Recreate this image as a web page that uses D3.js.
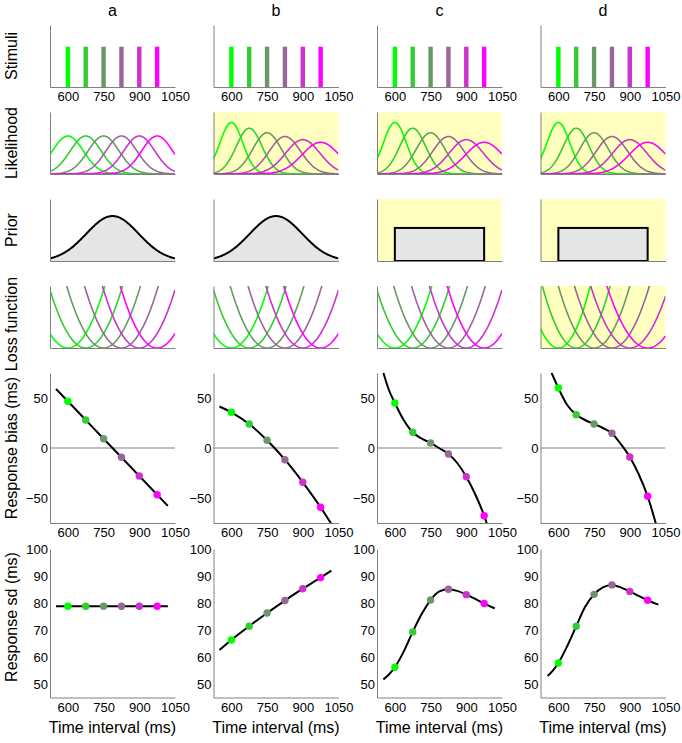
<!DOCTYPE html>
<html><head><meta charset="utf-8">
<script src="https://cdn.jsdelivr.net/npm/d3@7"></script>
<style>
body{margin:0;background:#fff}
text{font-family:"Liberation Sans",Arial,Helvetica,sans-serif;fill:#000}
</style>
</head><body>
<svg id="chart" width="682" height="743"></svg>
<script>
// ---------------- data ----------------
const columnLabels = ["a", "b", "c", "d"];
const rowLabels = ["Stimuli", "Likelihood", "Prior", "Loss function", "Response bias (ms)", "Response sd (ms)"];
const xAxisTitle = "Time interval (ms)";
const stimuli = [600, 675, 750, 825, 900, 975];
const stimulusColors = ["#00ff00", "#33cc33", "#669966", "#996699", "#cc33cc", "#ff00ff"];
const xTicks = [600, 750, 900, 1050];
const biasTicks = [-50, 0, 50];
const sdTicks = [50, 60, 70, 80, 90, 100];

// model components per column
const likelihoodNoise = ["constant", "scalar", "scalar", "scalar"];
const constantNoiseSd = 65;
const weberFraction = 0.08;
const priorShape = ["gaussian", "gaussian", "uniform", "uniform"];
const priorMean = 787.5;
const priorSd = 110;
const uniformPriorRange = [600, 975];
const lossShape = ["squared", "squared", "squared", "scaled"];
const lossMax = [24000, 24000, 24000, 30];
const likelihoodHighlight = [false, true, true, true];
const priorHighlight = [false, false, true, true];
const lossHighlight = [false, false, false, true];

// response bias curves [time, bias]
const biasCurveA = [[550, 59.1], [600, 46.7], [675, 28], [750, 9.3], [825, -9.3], [900, -28], [975, -46.7], [1020, -57.9]];
const biasCurveB = [[550, 41.5], [600, 35.7], [675, 24], [750, 7.7], [825, -11.7], [900, -34.3], [975, -59.3], [1020, -76]];
const biasCurveC = [[552, 75], [575, 58], [600, 45], [637, 28], [675, 15.7], [712, 9.5], [750, 5], [785, 0], [825, -6], [862, -15], [900, -28.7], [937, -46], [975, -67.7], [995, -82]];
const biasCurveD = [[570, 76], [600, 60], [637, 43], [675, 33.3], [712, 28], [750, 24], [787, 20], [825, 14.7], [862, 4], [900, -9], [937, -26], [975, -48.3], [1010, -76]];
const biasDotsA = [46.7, 28, 9.3, -9.3, -28, -46.7];
const biasDotsB = [35.7, 24, 7.7, -11.7, -34.3, -59.3];
const biasDotsC = [45, 15.7, 5, -6, -28.7, -67.7];
const biasDotsD = [60, 33.3, 24, 14.7, -9, -48.3];

// response sd curves [time, sd]
const sdCurveA = [[550, 78.8], [1020, 78.8]];
const sdCurveB = [[550, 62.6], [600, 66.3], [675, 71.4], [750, 76.3], [825, 80.9], [900, 85.3], [975, 89.4], [1020, 92]];
const sdCurveC = [[552, 51.7], [575, 53.5], [600, 56.2], [637, 62], [675, 69.3], [712, 75.8], [750, 81.1], [787, 84.3], [825, 85.1], [862, 84.5], [900, 83.1], [937, 81.5], [975, 79.8], [1020, 78]];
const sdCurveD = [[555, 53], [575, 54.8], [600, 57.8], [637, 64], [675, 71.4], [712, 78.5], [750, 83.2], [787, 85.8], [825, 86.7], [862, 85.8], [900, 84.3], [937, 82.6], [975, 81], [1020, 79.4]];
const sdDotsA = [78.8, 78.8, 78.8, 78.8, 78.8, 78.8];
const sdDotsB = [66.3, 71.4, 76.3, 80.9, 85.3, 89.4];
const sdDotsC = [56.2, 69.3, 81.1, 85.1, 83.1, 79.8];
const sdDotsD = [57.8, 71.4, 83.2, 86.7, 84.3, 81];

const biasCurves = [biasCurveA, biasCurveB, biasCurveC, biasCurveD];
const biasDots = [biasDotsA, biasDotsB, biasDotsC, biasDotsD];
const sdCurves = [sdCurveA, sdCurveB, sdCurveC, sdCurveD];
const sdDots = [sdDotsA, sdDotsB, sdDotsC, sdDotsD];

// ---------------- layout ----------------
const X0 = 525, X1 = 1050;
const colLeft = [50, 213.5, 377, 540.5];
const panelW = 125;
const smallTops = [25, 112, 199, 286];
const smallH = 62;
const biasTop = 373, biasBottom = 523;
const sdTop = 549, sdBottom = 697.5;
const yellow = "#ffffc0";
const axisColor = "#808080";
const rowLabelCenters = [56, 143, 230, 324, 448, 617];
const numFmt = d3.format("d");

const svg = d3.select("#chart");
const defs = svg.append("defs");
const pdf = (t, m, s) => Math.exp(-0.5 * ((t - m) / s) ** 2) / (s * Math.sqrt(2 * Math.PI));
const grid = d3.range(X0, X1 + 0.01, 2.5);

// row labels
rowLabels.forEach((lab, i) => {
  svg.append("text")
    .attr("transform", `translate(17,${rowLabelCenters[i]}) rotate(-90)`)
    .attr("text-anchor", "middle")
    .style("font-size", "16px")
    .text(lab);
});

function makePanel(ci, ri, top, bottom, x, highlight) {
  const id = `clip-${ci}-${ri}`;
  defs.append("clipPath").attr("id", id).append("rect")
    .attr("x", x.range()[0]).attr("y", top)
    .attr("width", x.range()[1] - x.range()[0]).attr("height", bottom - top);
  const g = svg.append("g");
  if (highlight) {
    g.append("rect").attr("x", x.range()[0]).attr("y", top)
      .attr("width", x.range()[1] - x.range()[0]).attr("height", bottom - top)
      .attr("fill", yellow);
  }
  const inner = g.append("g").attr("clip-path", `url(#${id})`);
  return {g, inner};
}

function styleAxis(sel) {
  sel.select(".domain").attr("stroke", axisColor).attr("stroke-width", 1);
  sel.selectAll(".tick line").remove();
  sel.selectAll("text").style("font-size", "13px").style("font-family", '"Liberation Sans",Arial,sans-serif').attr("fill", "#000");
}

function bottomAxis(g, x, y0, withLabels) {
  const ax = d3.axisBottom(x).tickSizeInner(0).tickSizeOuter(0).tickPadding(5).tickFormat(numFmt);
  if (withLabels) ax.tickValues(xTicks); else ax.tickValues([]);
  const a = g.append("g").attr("transform", `translate(0,${y0})`).call(ax);
  styleAxis(a);
}
function leftAxis(g, x, y, ticks) {
  const ax = d3.axisLeft(y).tickSizeInner(0).tickSizeOuter(0).tickPadding(2);
  ax.tickValues(ticks || []);
  const a = g.append("g").attr("transform", `translate(${x.range()[0]},0)`).call(ax);
  styleAxis(a);
}

columnLabels.forEach((lab, ci) => {
  const x = d3.scaleLinear().domain([X0, X1]).range([colLeft[ci], colLeft[ci] + panelW]);

  svg.append("text").attr("x", colLeft[ci] + panelW / 2).attr("y", 16)
    .attr("text-anchor", "middle").style("font-size", "16px").text(lab);

  // --- Stimuli ---
  {
    const top = smallTops[0], bottom = top + smallH;
    const y = d3.scaleLinear().domain([0, 1]).range([bottom, top]);
    const p = makePanel(ci, 0, top, bottom, x, false);
    p.inner.selectAll("rect.stim").data(stimuli).join("rect")
      .attr("x", d => x(d) - 2.2).attr("width", 4.4)
      .attr("y", y(0.65)).attr("height", y(0) - y(0.65))
      .attr("fill", (d, i) => stimulusColors[i]);
    bottomAxis(p.g, x, bottom, true);
    leftAxis(p.g, x, y, []);
  }

  // --- Likelihood ---
  {
    const top = smallTops[1], bottom = top + smallH;
    const y = d3.scaleLinear().domain([0, 0.01]).range([bottom, top]);
    const p = makePanel(ci, 1, top, bottom, x, likelihoodHighlight[ci]);
    stimuli.forEach((s, i) => {
      const sd = likelihoodNoise[ci] === "constant" ? constantNoiseSd : weberFraction * s;
      p.inner.append("path").datum(grid)
        .attr("d", d3.line().x(t => x(t)).y(t => y(pdf(t, s, sd))))
        .attr("fill", "none").attr("stroke", stimulusColors[i]).attr("stroke-width", 1.6);
    });
    bottomAxis(p.g, x, bottom, false);
    leftAxis(p.g, x, y, []);
  }

  // --- Prior ---
  {
    const top = smallTops[2], bottom = top + smallH;
    const y = d3.scaleLinear().domain([0, 0.005]).range([bottom, top]);
    const p = makePanel(ci, 2, top, bottom, x, priorHighlight[ci]);
    if (priorShape[ci] === "gaussian") {
      p.inner.append("path").datum(grid)
        .attr("d", d3.area().x(t => x(t)).y0(y(0)).y1(t => y(pdf(t, priorMean, priorSd))))
        .attr("fill", "#e5e5e5");
      p.inner.append("path").datum(grid)
        .attr("d", d3.line().x(t => x(t)).y(t => y(pdf(t, priorMean, priorSd))))
        .attr("fill", "none").attr("stroke", "#000").attr("stroke-width", 2);
    } else {
      const dens = 1 / (uniformPriorRange[1] - uniformPriorRange[0]);
      p.inner.append("rect")
        .attr("x", x(uniformPriorRange[0])).attr("width", x(uniformPriorRange[1]) - x(uniformPriorRange[0]))
        .attr("y", y(dens)).attr("height", y(0) - y(dens))
        .attr("fill", "#e5e5e5").attr("stroke", "#000").attr("stroke-width", 2);
    }
    bottomAxis(p.g, x, bottom, false);
    leftAxis(p.g, x, y, []);
  }

  // --- Loss function ---
  {
    const top = smallTops[3], bottom = top + smallH;
    const y = d3.scaleLinear().domain([0, lossMax[ci]]).range([bottom, top]);
    const p = makePanel(ci, 3, top, bottom, x, lossHighlight[ci]);
    stimuli.forEach((s, i) => {
      const loss = t => lossShape[ci] === "squared" ? (t - s) ** 2 : (t - s) ** 2 / s;
      p.inner.append("path").datum(grid)
        .attr("d", d3.line().x(t => x(t)).y(t => Math.max(top - 50, y(loss(t)))))
        .attr("fill", "none").attr("stroke", stimulusColors[i]).attr("stroke-width", 1.6);
    });
    bottomAxis(p.g, x, bottom, false);
    leftAxis(p.g, x, y, []);
  }

  // --- Response bias ---
  {
    const y = d3.scaleLinear().domain([-75, 75]).range([biasBottom, biasTop]);
    const p = makePanel(ci, 4, biasTop, biasBottom, x, false);
    p.inner.append("line").attr("x1", x(X0)).attr("x2", x(X1)).attr("y1", y(0)).attr("y2", y(0))
      .attr("stroke", axisColor).attr("stroke-width", 1);
    p.inner.append("path").datum(biasCurves[ci])
      .attr("d", d3.line().curve(d3.curveMonotoneX).x(d => x(d[0])).y(d => y(d[1])))
      .attr("fill", "none").attr("stroke", "#000").attr("stroke-width", 2);
    p.g.selectAll("circle").data(biasDots[ci]).join("circle")
      .attr("cx", (d, i) => x(stimuli[i])).attr("cy", d => y(d)).attr("r", 3.7)
      .attr("fill", (d, i) => stimulusColors[i]);
    bottomAxis(p.g, x, biasBottom, true);
    leftAxis(p.g, x, y, biasTicks);
  }

  // --- Response sd ---
  {
    const y = d3.scaleLinear().domain([45, 100]).range([sdBottom, sdTop]);
    const p = makePanel(ci, 5, sdTop, sdBottom, x, false);
    p.inner.append("path").datum(sdCurves[ci])
      .attr("d", d3.line().curve(d3.curveMonotoneX).x(d => x(d[0])).y(d => y(d[1])))
      .attr("fill", "none").attr("stroke", "#000").attr("stroke-width", 2);
    p.g.selectAll("circle").data(sdDots[ci]).join("circle")
      .attr("cx", (d, i) => x(stimuli[i])).attr("cy", d => y(d)).attr("r", 3.7)
      .attr("fill", (d, i) => stimulusColors[i]);
    bottomAxis(p.g, x, sdBottom, true);
    leftAxis(p.g, x, y, sdTicks);
  }

  svg.append("text").attr("x", colLeft[ci] + panelW / 2).attr("y", 733)
    .attr("text-anchor", "middle").style("font-size", "16px").text(xAxisTitle);
});
</script>
</body></html>
